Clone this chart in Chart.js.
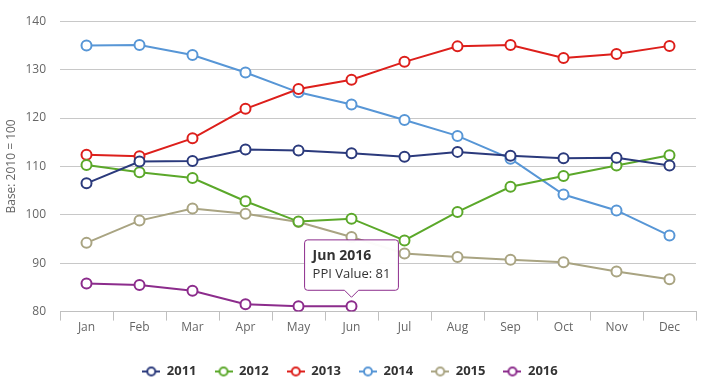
<!DOCTYPE html>
<html>
<head>
<meta charset="utf-8">
<script src="https://cdn.jsdelivr.net/npm/chart.js@4/dist/chart.umd.min.js"></script>
<style>
html,body{margin:0;padding:0;background:#fff;}
#wrap{width:712px;height:382px;position:relative;}
</style>
</head>
<body>
<div id="wrap"><canvas id="c" width="712" height="382"></canvas></div>
<script>
const months = ["Jan","Feb","Mar","Apr","May","Jun","Jul","Aug","Sep","Oct","Nov","Dec"];
const seriesNames = ["2011","2012","2013","2014","2015","2016"];
const v2011 = [106.5,111.0,111.1,113.5,113.3,112.7,112.0,113.0,112.2,111.7,111.8,110.2];
const v2012 = [110.3,108.8,107.6,102.8,98.6,99.2,94.7,100.6,105.8,108.0,110.2,112.3];
const v2013 = [112.4,112.1,115.8,121.9,126.0,127.9,131.6,134.8,135.1,132.4,133.2,134.9];
const v2014 = [135.0,135.1,133.0,129.4,125.3,122.8,119.6,116.3,111.6,104.2,100.9,95.7];
const v2015 = [94.2,98.8,101.3,100.2,98.5,95.4,92.0,91.3,90.7,90.2,88.3,86.7];
const v2016 = [85.8,85.5,84.3,81.5,81.1,81.1];
const yTicks = [80,90,100,110,120,130,140];
const colors = ["#2b3a7c","#5ba82a","#dd1f1b","#5796d6","#a9a482","#8c2c8c"];
const allValues = [v2011,v2012,v2013,v2014,v2015,v2016];

function legendIcon(color){
  const cv = document.createElement('canvas');
  cv.width = 18; cv.height = 12;
  const g = cv.getContext('2d');
  g.strokeStyle = color; g.lineWidth = 2;
  g.beginPath(); g.moveTo(0,6); g.lineTo(18,6); g.stroke();
  g.fillStyle = '#fff';
  g.beginPath(); g.arc(9,6,4,0,Math.PI*2); g.fill(); g.stroke();
  return cv;
}

const datasets = seriesNames.map((n,i)=>({
  label: n,
  data: allValues[i],
  borderColor: colors[i],
  backgroundColor: '#fff',
  borderWidth: 2,
  pointRadius: 5,
  pointBorderWidth: 2,
  pointBackgroundColor: '#fff',
  pointBorderColor: colors[i],
  pointHoverRadius: 5,
  pointStyle: 'circle',
  tension: 0,
  fill: false
}));

const chart = new Chart(document.getElementById('c'), {
  type: 'line',
  data: { labels: months, datasets },
  options: {
    responsive: false,
    animation: false,
    events: [],
    layout: { padding: { top: 17, right: 16, left: 4, bottom: -6 } },
    scales: {
      x: {
        offset: true,
        grid: { offset: true, drawOnChartArea: false, drawTicks: true, tickLength: 9, color: '#c0c0c0' },
        border: { display: true, color: '#c0c0c0', width: 1 },
        ticks: { color: '#666', font: { family: 'Open Sans', size: 12 }, padding: 0 },
        afterFit: (s)=>{ s.height += 12; }
      },
      y: {
        min: 80, max: 140,
        afterBuildTicks: (s)=>{ s.ticks = yTicks.map(v=>({value:v})); },
        grid: { color: '#c8c8c8', drawTicks: false, lineWidth: 1 },
        border: { display: false },
        ticks: { color: '#666', font: { family: 'Open Sans', size: 12 }, padding: 14 },
        title: { display: true, text: 'Base: 2010 = 100', color: '#666', font: { family: 'Open Sans', size: 12 }, padding: { top: 0, bottom: 4 } },
        afterFit: (s)=>{ s.width = 56; }
      }
    },
    plugins: {
      legend: {
        position: 'bottom',
        labels: {
          usePointStyle: true,
          pointStyleWidth: 18,
          padding: 18,
          color: '#333',
          font: { family: 'Open Sans', size: 13, weight: 'bold' },
          generateLabels: (ch)=> ch.data.datasets.map((d,i)=>({
            text: d.label,
            pointStyle: legendIcon(colors[i]),
            fillStyle: '#fff',
            strokeStyle: colors[i],
            lineWidth: 0,
            fontColor: '#333',
            datasetIndex: i,
            hidden: false
          }))
        }
      },
      tooltip: {
        enabled: true,
        backgroundColor: 'rgba(255,255,255,0.96)',
        borderColor: colors[5],
        borderWidth: 1,
        cornerRadius: 3,
        caretSize: 7,
        caretPadding: 9,
        padding: { top: 8, bottom: 8, left: 8, right: 8 },
        displayColors: false,
        yAlign: 'bottom',
        xAlign: 'center',
        titleColor: '#333',
        bodyColor: '#333',
        titleFont: { family: 'Open Sans', size: 14, weight: 'bold' },
        bodyFont: { family: 'Open Sans', size: 13 },
        titleMarginBottom: 2,
        callbacks: {
          title: (items)=> items[0].label + ' ' + items[0].dataset.label,
          label: (item)=> 'PPI Value: ' + Math.round(item.parsed.y)
        }
      }
    }
  }
});

const pt = chart.getDatasetMeta(5).data[5];
chart.tooltip.setActiveElements([{datasetIndex:5, index:5}], {x: pt.x, y: pt.y});
chart.update();
</script>
</body>
</html>
